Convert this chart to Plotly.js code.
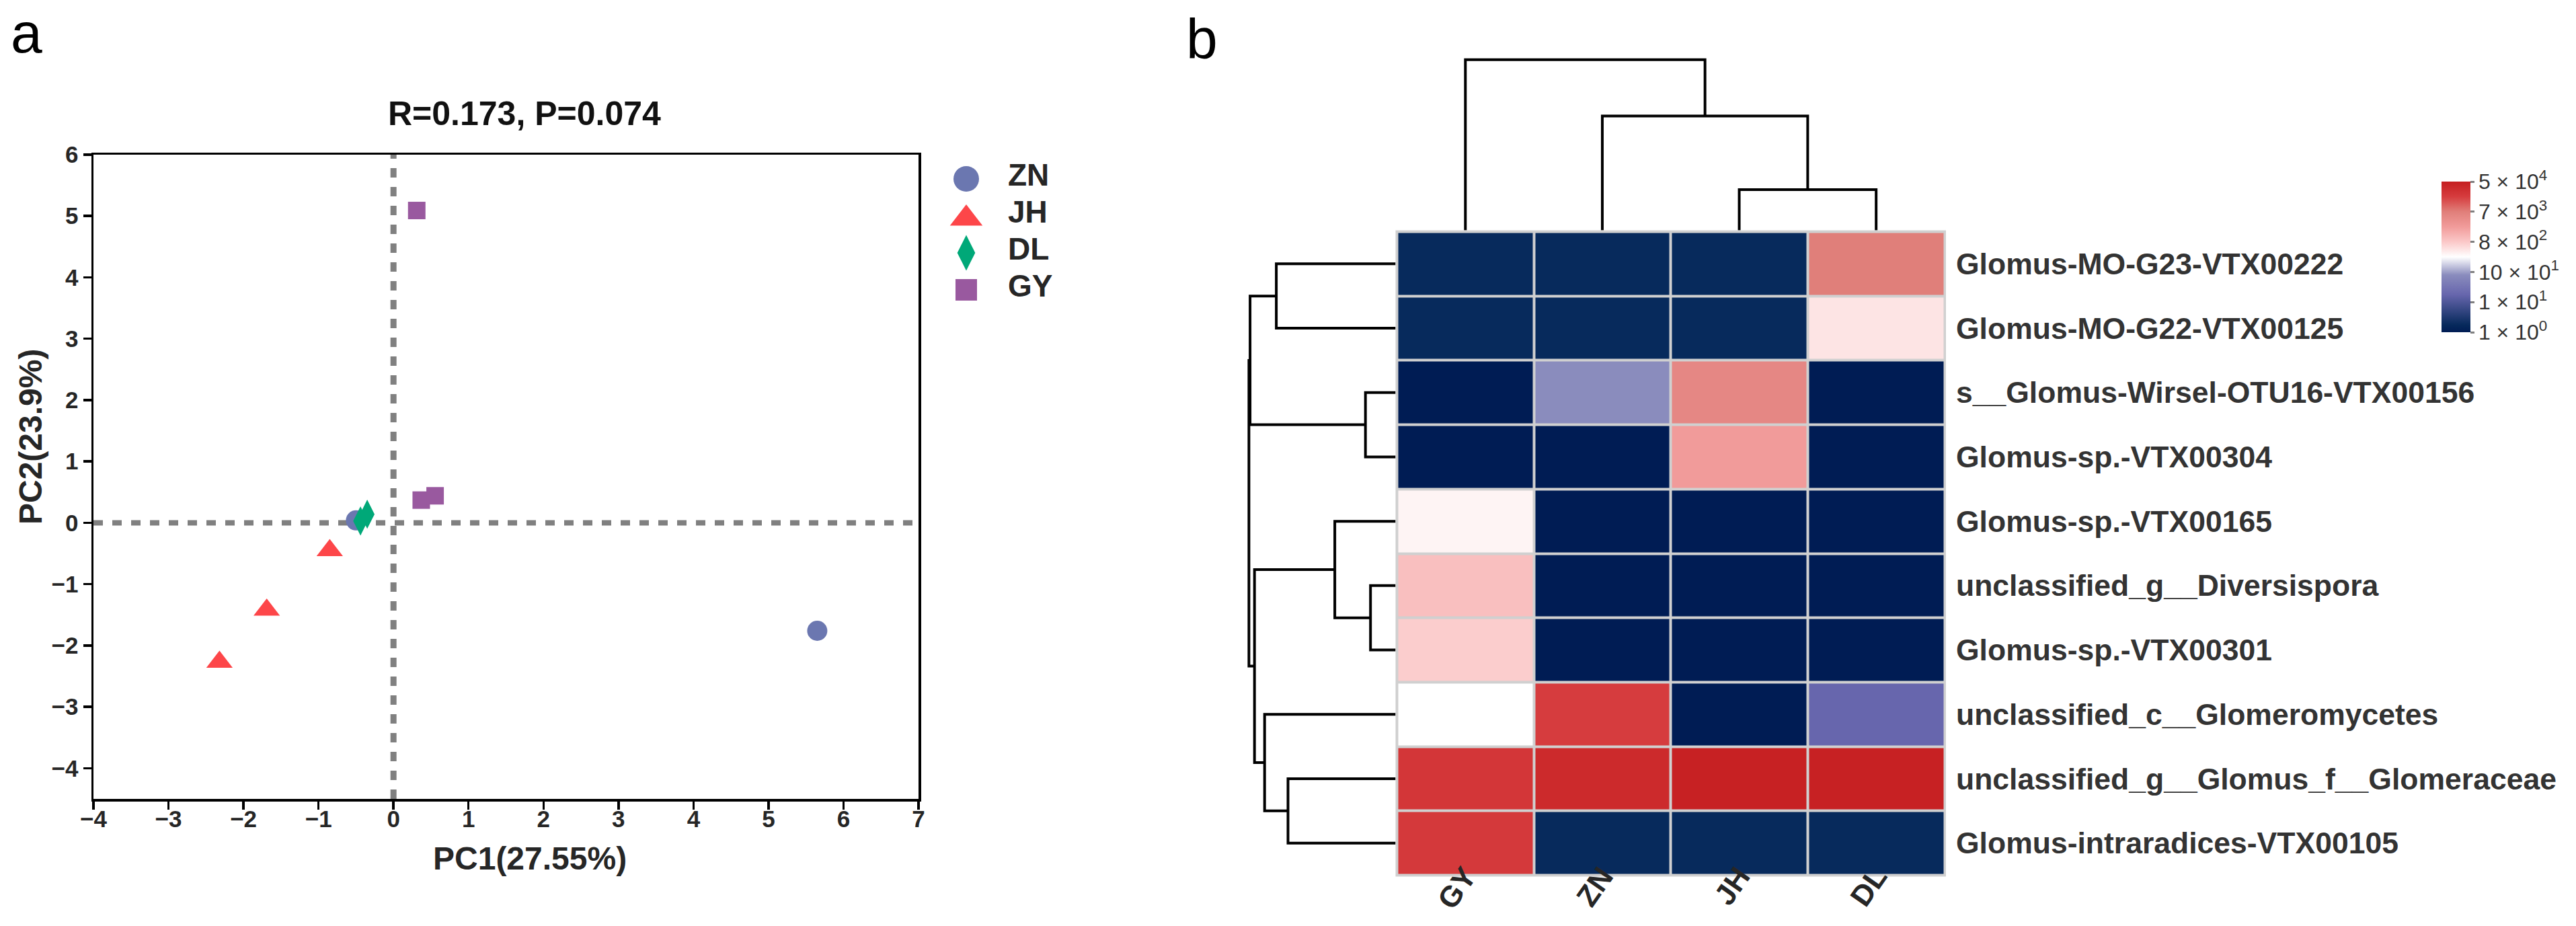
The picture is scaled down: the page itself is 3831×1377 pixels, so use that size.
<!DOCTYPE html>
<html>
<head>
<meta charset="utf-8">
<script src="https://cdn.plot.ly/plotly-3.0.1.min.js"></script>
<style>
html,body{margin:0;padding:0;background:#ffffff;}
#chart{width:3831px;height:1377px;}
</style>
</head>
<body>
<div id="chart"></div>
<script>
// ================= Panel a : PCA scores =================
const groups = ['ZN', 'JH', 'DL', 'GY'];
const groupColors = ['#6b77b0', '#fd4649', '#00a878', '#99599f'];
const groupSymbols = ['circle', 'triangle-up', 'diamond-tall', 'square'];
const ZN_pc1 = [5.65, -0.50];
const ZN_pc2 = [-1.76, 0.04];
const JH_pc1 = [-2.32, -1.69, -0.85];
const JH_pc2 = [-2.27, -1.42, -0.45];
const DL_pc1 = [-0.44, -0.35];
const DL_pc2 = [0.03, 0.14];
const GY_pc1 = [0.31, 0.37, 0.555];
const GY_pc2 = [5.09, 0.37, 0.44];
const pc1TickVals = [-4, -3, -2, -1, 0, 1, 2, 3, 4, 5, 6, 7];
const pc1TickText = ['−4', '−3', '−2', '−1', '0', '1', '2', '3', '4', '5', '6', '7'];
const pc2TickVals = [-4, -3, -2, -1, 0, 1, 2, 3, 4, 5, 6];
const pc2TickText = ['−4', '−3', '−2', '−1', '0', '1', '2', '3', '4', '5', '6'];
const pcaTitle = 'R=0.173, P=0.074';
const pc1Label = 'PC1(27.55%)';
const pc2Label = 'PC2(23.9%)';

// ================= Panel b : heatmap =================
const sampleNames = ['GY', 'ZN', 'JH', 'DL'];
const taxa = [
  'Glomus-MO-G23-VTX00222',
  'Glomus-MO-G22-VTX00125',
  's__Glomus-Wirsel-OTU16-VTX00156',
  'Glomus-sp.-VTX00304',
  'Glomus-sp.-VTX00165',
  'unclassified_g__Diversispora',
  'Glomus-sp.-VTX00301',
  'unclassified_c__Glomeromycetes',
  'unclassified_g__Glomus_f__Glomeraceae',
  'Glomus-intraradices-VTX00105'
];
// abundance level on the colour-bar scale (0 = 1x10^0 ... 5 = 5x10^4), columns GY, ZN, JH, DL
const level_GY = [0.25, 0.25, 0.00, 0.00, 2.60, 3.10, 2.95, 2.50, 4.60, 4.55];
const level_ZN = [0.25, 0.25, 1.90, 0.00, 0.00, 0.00, 0.00, 4.50, 4.80, 0.25];
const level_JH = [0.25, 0.25, 3.85, 3.50, 0.00, 0.00, 0.00, 0.00, 4.95, 0.25];
const level_DL = [4.00, 2.75, 0.00, 0.00, 0.00, 0.00, 0.00, 1.25, 4.95, 0.25];
const colorbarTickVals = [0, 1, 2, 3, 4, 5];
const colorbarTickText = ['1 × 10<sup>0</sup>', '1 × 10<sup>1</sup>', '10 × 10<sup>1</sup>',
                          '8 × 10<sup>2</sup>', '7 × 10<sup>3</sup>', '5 × 10<sup>4</sup>'];
// hierarchical clustering merges: [left id, right id, height]; ids >= n are earlier merges
const colMerges = [[2, 3, 0.605], [1, 4, 1.70], [0, 5, 2.538]];
const rowMerges = [
  [5, 6, 0.373],
  [2, 3, 0.448],
  [4, 10, 0.904],
  [8, 9, 1.60],
  [0, 1, 1.774],
  [7, 13, 1.948],
  [12, 15, 2.098],
  [14, 11, 2.164],
  [17, 16, 2.181]
];

// ================= helpers =================
const W = 3831, H = 1377;
const px = v => v / W;
const py = v => 1 - v / H;
const FONT = 'Liberation Sans, Arial, Helvetica, sans-serif';
const bold = s => '<b>' + s + '</b>';

function dendroSegments(n, merges) {
  const pos = [], ht = [];
  for (let i = 0; i < n; i++) { pos.push(i); ht.push(0); }
  const p = [], h = [];
  merges.forEach(([l, r, hh]) => {
    p.push(pos[l], pos[l], pos[r], pos[r], null);
    h.push(ht[l], hh, hh, ht[r], null);
    pos.push((pos[l] + pos[r]) / 2);
    ht.push(hh);
  });
  return { p, h };
}

const pcX = [ZN_pc1, JH_pc1, DL_pc1, GY_pc1];
const pcY = [ZN_pc2, JH_pc2, DL_pc2, GY_pc2];
const plotSizes = [30, 34, 31, 26];
const legendSizes = [38, 42, 38, 32];

const traces = [];
groups.forEach((g, i) => {
  traces.push({
    type: 'scatter', mode: 'markers', name: g,
    x: pcX[i], y: pcY[i], xaxis: 'x', yaxis: 'y',
    marker: { symbol: groupSymbols[i], color: groupColors[i], size: plotSizes[i], opacity: 1, line: { width: 0 } },
    showlegend: false, hoverinfo: 'skip'
  });
});

// custom legend (markers drawn on a helper axis measured in pixels)
traces.push({
  type: 'scatter', mode: 'markers', xaxis: 'x5', yaxis: 'y5',
  x: groups.map(() => 1437), y: groups.map((g, i) => 266 + 55 * i + (i === 1 ? 4 : 0)),
  marker: { symbol: groupSymbols, color: groupColors, size: legendSizes, opacity: 1, line: { width: 0 } },
  showlegend: false, hoverinfo: 'skip'
});

// heatmap
const z = taxa.map((t, r) => [level_GY[r], level_ZN[r], level_JH[r], level_DL[r]]);
traces.push({
  type: 'heatmap', x: sampleNames, y: taxa, z: z, xaxis: 'x2', yaxis: 'y2',
  zmin: 0, zmax: 5, xgap: 4, ygap: 4,
  colorscale: [
    [0.00, '#001c54'], [0.05, '#072a5c'], [0.25, '#6766ad'], [0.38, '#8a8cbd'],
    [0.50, '#ffffff'], [0.60, '#fbc8c8'], [0.70, '#f19b9a'], [0.80, '#e07f7a'],
    [0.90, '#d63c3e'], [1.00, '#c51e20']
  ],
  colorbar: {
    x: px(3631), xanchor: 'left', y: py(270), yanchor: 'top',
    len: 224, lenmode: 'pixels', thickness: 43, thicknessmode: 'pixels',
    xpad: 0, ypad: 0, outlinewidth: 0,
    ticks: 'outside', ticklen: 6, tickwidth: 3, tickcolor: '#808080',
    tickvals: colorbarTickVals, ticktext: colorbarTickText,
    tickfont: { family: FONT, size: 32, color: '#333333' }
  },
  hoverinfo: 'skip'
});

// column dendrogram
const cd = dendroSegments(sampleNames.length, colMerges);
traces.push({
  type: 'scatter', mode: 'lines', x: cd.p, y: cd.h, xaxis: 'x3', yaxis: 'y3',
  line: { color: '#000000', width: 4 }, showlegend: false, hoverinfo: 'skip', connectgaps: false
});
// row dendrogram
const rd = dendroSegments(taxa.length, rowMerges);
traces.push({
  type: 'scatter', mode: 'lines', x: rd.h, y: rd.p, xaxis: 'x4', yaxis: 'y4',
  line: { color: '#000000', width: 4 }, showlegend: false, hoverinfo: 'skip', connectgaps: false
});

const hidden = { visible: false, showgrid: false, zeroline: false, fixedrange: true };
const pcaAxis = {
  showgrid: false, zeroline: false, showline: true, linecolor: '#000000', linewidth: 3.5, mirror: true,
  ticks: 'outside', ticklen: 12, tickwidth: 3.5, tickcolor: '#000000',
  tickfont: { family: FONT, size: 35, color: '#262626' }, fixedrange: true
};

const layout = {
  width: W, height: H,
  margin: { l: 0, r: 0, t: 0, b: 0 },
  paper_bgcolor: '#ffffff', plot_bgcolor: 'rgba(0,0,0,0)',
  showlegend: false,
  xaxis: Object.assign({}, pcaAxis, { domain: [px(139), px(1366)], range: [-4, 7], anchor: 'y',
    tickmode: 'array', tickvals: pc1TickVals, ticktext: pc1TickText.map(bold), ticklabelstandoff: -16 }),
  yaxis: Object.assign({}, pcaAxis, { domain: [py(1188), py(230)], range: [-4.5, 6], anchor: 'x',
    tickmode: 'array', tickvals: pc2TickVals, ticktext: pc2TickText.map(bold) }),
  xaxis2: {
    domain: [px(2077.5), px(2892)], anchor: 'y2', type: 'category',
    tickmode: 'array', tickvals: sampleNames, ticktext: sampleNames.map(bold),
    tickangle: -55, ticks: '', showline: false, showgrid: false, zeroline: false,
    ticklabelstandoff: -34,
    tickfont: { family: FONT, size: 44, color: '#262626' }, fixedrange: true
  },
  yaxis2: {
    domain: [py(1301.5), py(344.5)], anchor: 'x2', type: 'category', autorange: 'reversed',
    tickmode: 'array', tickvals: taxa, ticktext: taxa.map(bold),
    side: 'right', ticks: '', showline: false, showgrid: false, zeroline: false,
    ticklabelstandoff: 16,
    tickfont: { family: FONT, size: 44.5, color: '#333333' }, fixedrange: true
  },
  xaxis3: Object.assign({}, hidden, { domain: [px(2077.5), px(2892)], anchor: 'y3', range: [-0.5, 3.5] }),
  yaxis3: Object.assign({}, hidden, { domain: [py(342.5), py(80)], anchor: 'x3', range: [0, 2.625] }),
  xaxis4: Object.assign({}, hidden, { domain: [px(1800), px(2075.5)], anchor: 'y4', range: [2.755, 0] }),
  yaxis4: Object.assign({}, hidden, { domain: [py(1301.5), py(344.5)], anchor: 'x4', range: [9.5, -0.5] }),
  xaxis5: Object.assign({}, hidden, { domain: [px(1380), px(1700)], anchor: 'y5', range: [1380, 1700] }),
  yaxis5: Object.assign({}, hidden, { domain: [py(480), py(200)], anchor: 'x5', range: [480, 200] }),
  shapes: [
    { type: 'line', xref: 'x', yref: 'y', x0: -4, x1: 7, y0: 0, y1: 0, layer: 'below',
      line: { color: '#808080', width: 8, dash: '14px,14px' } },
    { type: 'line', xref: 'x', yref: 'y', x0: 0, x1: 0, y0: -4.5, y1: 6, layer: 'below',
      line: { color: '#808080', width: 9, dash: '14px,14px' } },
    { type: 'rect', xref: 'x2 domain', yref: 'y2 domain', x0: -0.0025, x1: 1.0025, y0: -0.0021, y1: 1.0021,
      layer: 'below', fillcolor: '#d0d0d0', line: { width: 0 } }
  ],
  annotations: [
    { text: 'a', xref: 'paper', yref: 'paper', x: px(15), y: py(49), xanchor: 'left', yanchor: 'middle',
      borderpad: 0, showarrow: false, font: { family: FONT, size: 84, color: '#000000' } },
    { text: 'b', xref: 'paper', yref: 'paper', x: px(1763), y: py(58), xanchor: 'left', yanchor: 'middle',
      borderpad: 0, showarrow: false, font: { family: FONT, size: 84, color: '#000000' } },
    { text: bold(pcaTitle), xref: 'paper', yref: 'paper', x: px(780), y: py(169), xanchor: 'center', yanchor: 'middle',
      showarrow: false, font: { family: FONT, size: 50, color: '#111111' } },
    { text: bold(pc1Label), xref: 'paper', yref: 'paper', x: px(788), y: py(1276), xanchor: 'center', yanchor: 'middle',
      showarrow: false, font: { family: FONT, size: 48, color: '#262626' } },
    { text: bold(pc2Label), xref: 'paper', yref: 'paper', x: px(45), y: py(650), xanchor: 'center', yanchor: 'middle',
      textangle: -90, showarrow: false, font: { family: FONT, size: 48, color: '#262626' } }
  ].concat(groups.map((g, i) => ({
    text: bold(g), xref: 'paper', yref: 'paper', x: px(1497), y: py(260 + 55 * i), xanchor: 'left', yanchor: 'middle',
    showarrow: false, font: { family: FONT, size: 46, color: '#262626' }
  })))
};

Plotly.newPlot('chart', traces, layout, { displayModeBar: false, staticPlot: true });
</script>
</body>
</html>
